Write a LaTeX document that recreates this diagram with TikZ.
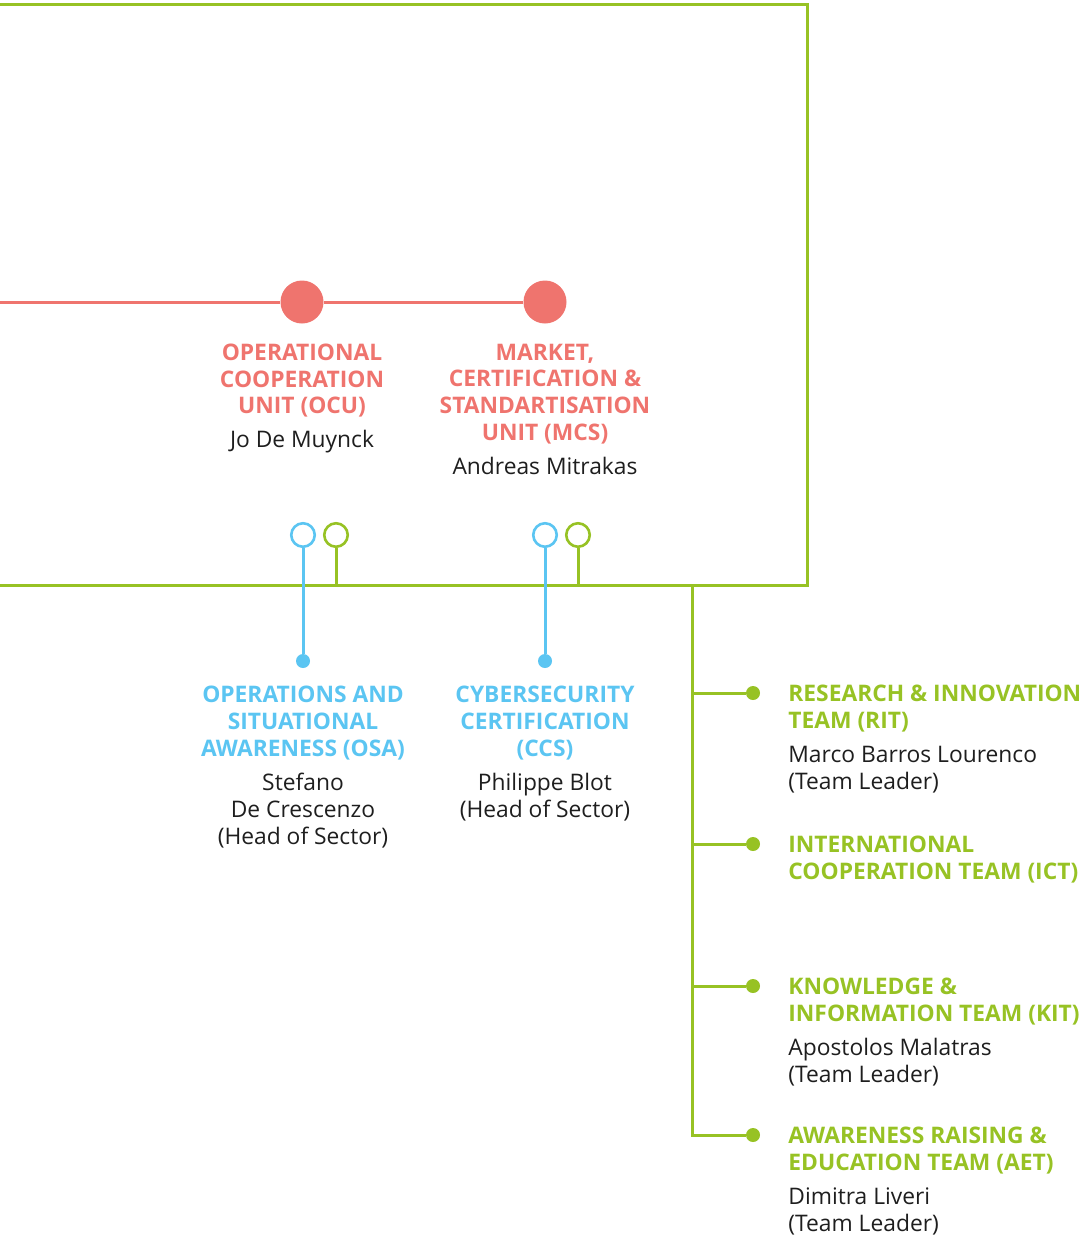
\documentclass[tikz,border=0pt]{standalone}
\usepackage{fontspec}
\setmainfont{Open Sans}
\usepackage{tikz}
\usetikzlibrary{positioning}
\usepackage{xcolor}
\definecolor{enisared}{RGB}{239,116,110}
\definecolor{enisablue}{RGB}{91,197,242}
\definecolor{enisagreen}{RGB}{151,194,36}
\definecolor{inkblack}{RGB}{30,30,30}

\begin{document}
\begin{tikzpicture}[
    x=1pt, y=-1pt,
    node distance=13pt,
    head/.style={font=\bfseries\fontsize{22.8}{26.6}\selectfont, align=center, inner sep=0pt},
    unit/.style={head, text=enisared},
    sector/.style={head, text=enisablue},
    team/.style={head, text=enisagreen, align=left, anchor=north west, yshift=8.1pt},
    person/.style={font=\fontsize{22.8}{26.8}\selectfont, text=inkblack, align=center, inner sep=0pt},
    teamperson/.style={person, align=left, anchor=north west},
    reddot/.style={circle, fill=enisared, minimum size=43pt, inner sep=0pt},
    ring/.style={circle, draw=#1, fill=white, line width=2.6pt, minimum size=23.5pt, inner sep=0pt},
    pin/.style={circle, fill=#1, minimum size=14pt, inner sep=0pt},
    link/.style={draw=#1, line width=3pt}
]
\useasboundingbox (0,0) rectangle (1081,1239);
\clip (0,0) rectangle (1081,1239);

% green frame of the department
\coordinate (frameTL) at (-10,5);
\coordinate (frameTR) at (807,5);
\coordinate (frameBR) at (807,585);
\coordinate (frameBL) at (-10,585);
\draw[link=enisagreen] (frameTL) -- (frameTR) -- (frameBR) -- (frameBL);

% units
\coordinate (redstart) at (-10,302);
\node[reddot] (ocudot) at (302,302) {};
\node[reddot] (mcsdot) at (545,302) {};
\draw[link=enisared] (redstart) -- (ocudot) -- (mcsdot);

\node[unit, below=20pt of ocudot] (ocu) {OPERATIONAL\\COOPERATION\\UNIT (OCU)};
\node[person, below=of ocu] (ocuhead) {Jo De Muynck};
\node[unit, below=20pt of mcsdot] (mcs) {MARKET,\\CERTIFICATION \&\\STANDARTISATION\\UNIT (MCS)};
\node[person, below=of mcs] (mcshead) {Andreas Mitrakas};

% sectors
\node[ring=enisablue] (osaring) at (303,535) {};
\node[ring=enisagreen] (ocuring) at (336,535) {};
\node[ring=enisablue] (ccsring) at (545,535) {};
\node[ring=enisagreen] (mcsring) at (578,535) {};
\node[pin=enisablue] (osadot) at (303,661) {};
\node[pin=enisablue] (ccsdot) at (545,661) {};

\draw[link=enisagreen] (ocuring) -- (ocuring |- frameBL);
\draw[link=enisagreen] (mcsring) -- (mcsring |- frameBL);
\draw[link=enisablue] (osaring) -- (osadot);
\draw[link=enisablue] (ccsring) -- (ccsdot);

\node[sector, below=18pt of osadot] (osa) {OPERATIONS AND\\SITUATIONAL\\AWARENESS (OSA)};
\node[person, below=of osa] (osahead) {Stefano\\De Crescenzo\\(Head of Sector)};
\node[sector, below=18pt of ccsdot] (ccs) {CYBERSECURITY\\CERTIFICATION\\(CCS)};
\node[person, below=of ccs] (ccshead) {Philippe Blot\\(Head of Sector)};

% teams
\coordinate (trunk) at (692,585);
\node[pin=enisagreen] (ritdot) at (753,693) {};
\node[pin=enisagreen] (ictdot) at (753,844) {};
\node[pin=enisagreen] (kitdot) at (753,986) {};
\node[pin=enisagreen] (aetdot) at (753,1135) {};
\draw[link=enisagreen] (trunk) |- (aetdot);
\draw[link=enisagreen] (trunk |- ritdot) -- (ritdot);
\draw[link=enisagreen] (trunk |- ictdot) -- (ictdot);
\draw[link=enisagreen] (trunk |- kitdot) -- (kitdot);

\node[right=28pt of ritdot, team] (rit) {RESEARCH \& INNOVATION\\TEAM (RIT)};
\node[below=14pt of rit.south west, teamperson] (rithead) {Marco Barros Lourenco\\(Team Leader)};
\node[right=28pt of ictdot, team] (ict) {INTERNATIONAL\\COOPERATION TEAM (ICT)};
\node[right=28pt of kitdot, team] (kit) {KNOWLEDGE \&\\INFORMATION TEAM (KIT)};
\node[below=of kit.south west, teamperson] (kithead) {Apostolos Malatras\\(Team Leader)};
\node[right=28pt of aetdot, team] (aet) {AWARENESS RAISING \&\\EDUCATION TEAM (AET)};
\node[below=14pt of aet.south west, teamperson] (aethead) {Dimitra Liveri\\(Team Leader)};
\end{tikzpicture}
\end{document}
